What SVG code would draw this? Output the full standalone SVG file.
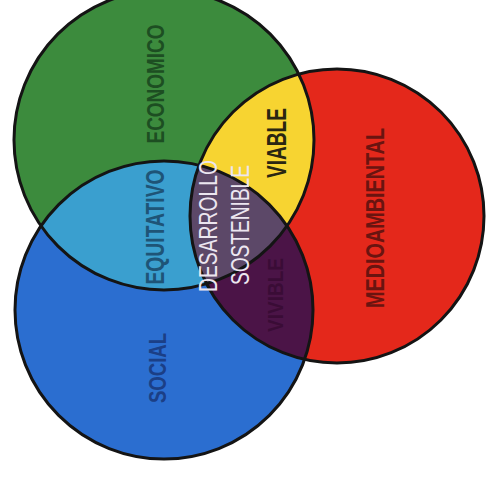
<svg xmlns="http://www.w3.org/2000/svg" width="486" height="477" viewBox="0 0 486 477">
<style>
.lbl{font-family:"Liberation Sans","DejaVu Sans",sans-serif;font-weight:bold;text-anchor:middle;dominant-baseline:central}
.lt{font-family:"Liberation Sans","DejaVu Sans",sans-serif;font-weight:normal;text-anchor:middle;dominant-baseline:central;fill:#ece6f0}
.edge{fill:none;stroke:#141414;stroke-width:3}
</style>
<defs>
<circle id="cg" cx="164" cy="140" r="150"/>
<circle id="cr" cx="337" cy="216" r="147"/>
<circle id="cb" cx="164" cy="310" r="149"/>
<clipPath id="clipG"><use href="#cg"/></clipPath>
<clipPath id="clipR"><use href="#cr"/></clipPath>
</defs>
<rect width="486" height="477" fill="#ffffff"/>
<g id="economico">
<use href="#cg" fill="#3c8b3d"/>
</g>
<g id="medioambiental">
<use href="#cr" fill="#e4281b"/>
</g>
<g id="social">
<use href="#cb" fill="#2b6ed0"/>
</g>
<g id="equitativo">
<use href="#cb" fill="#3a9fcf" clip-path="url(#clipG)"/>
</g>
<g id="viable">
<use href="#cr" fill="#f7d431" clip-path="url(#clipG)"/>
</g>
<g id="vivible">
<use href="#cb" fill="#4b1447" clip-path="url(#clipR)"/>
</g>
<g id="desarrollo-sostenible">
<g clip-path="url(#clipG)"><use href="#cb" fill="#5c4868" clip-path="url(#clipR)"/></g>
</g>
<g id="edges">
<use href="#cg" class="edge"/>
<use href="#cr" class="edge"/>
<use href="#cb" class="edge"/>
</g>
<g id="labels">
<text class="lbl" transform="translate(156,84) rotate(-90)" font-size="23" fill="#1d4e22" textLength="119" lengthAdjust="spacingAndGlyphs">ECONOMICO</text>
<text class="lbl" transform="translate(277,143) rotate(-90)" font-size="27" fill="#2a2612" textLength="70" lengthAdjust="spacingAndGlyphs">VIABLE</text>
<text class="lbl" transform="translate(375,218) rotate(-90)" font-size="26" fill="#6a1410" textLength="180" lengthAdjust="spacingAndGlyphs">MEDIOAMBIENTAL</text>
<text class="lbl" transform="translate(155,227) rotate(-90)" font-size="25" fill="#1e5477" textLength="115" lengthAdjust="spacingAndGlyphs">EQUITATIVO</text>
<text class="lt" transform="translate(208,226) rotate(-90)" font-size="25" textLength="132" lengthAdjust="spacingAndGlyphs">DESARROLLO</text>
<text class="lt" transform="translate(240,225) rotate(-90)" font-size="25" textLength="120" lengthAdjust="spacingAndGlyphs">SOSTENIBLE</text>
<text class="lbl" transform="translate(275,295) rotate(-90)" font-size="22" fill="#3a0c36" textLength="74" lengthAdjust="spacingAndGlyphs">VIVIBLE</text>
<text class="lbl" transform="translate(157,368) rotate(-90)" font-size="24" fill="#1b3f86" textLength="70" lengthAdjust="spacingAndGlyphs">SOCIAL</text>
</g>
</svg>
